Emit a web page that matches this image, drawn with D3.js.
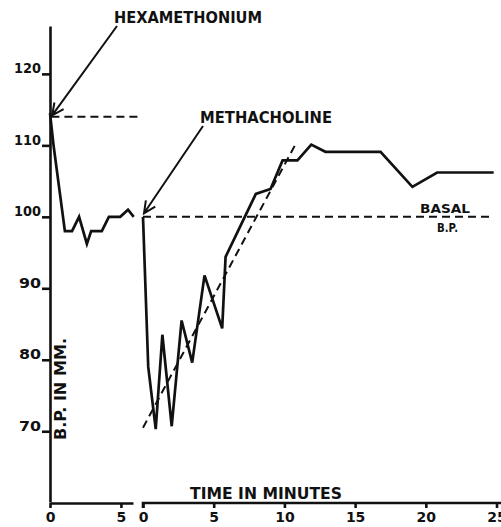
<!DOCTYPE html>
<html lang="en">
<head>
    <meta charset="UTF-8">
    <title>B.P. after hexamethonium and methacholine</title>
    <script src="https://d3js.org/d3.v7.min.js"></script>
    <style>
        body {
            margin: 0;
            background: #fff;
        }

        text {
            font-family: "DejaVu Sans", "Liberation Sans", sans-serif;
            font-weight: bold;
            fill: #111;
        }

        .trace {
            fill: none;
            stroke: #111;
            stroke-width: 2.7px;
            stroke-linejoin: miter;
        }

        .dashed {
            fill: none;
            stroke: #111;
            stroke-width: 2px;
            stroke-dasharray: 8, 5;
        }

        .axis path, .axis line {
            stroke: #111;
            stroke-width: 2.6px;
        }
    </style>
</head>
<body>
<svg width="501" height="527"></svg>

<script>
    // hexamethonium panel (minutes, mm Hg)
    const hexTime = [0, 0.25, 1.05, 1.55, 2.05, 2.6, 2.9, 3.65, 4.15, 4.95, 5.5, 5.9];
    const hexBP = [114.5, 110, 98, 98, 100, 96.2, 98, 98, 100, 100, 101, 100];

    // methacholine panel
    const methTime = [0, 0.37, 0.9, 1.37, 2.03, 2.73, 3.48, 4.35, 5.6, 5.84, 7.98, 9.02, 9.87, 10.92, 11.9, 12.9, 16.8, 19.05, 20.8, 24.8];
    const methBP = [100, 79, 70.3, 83.5, 70.7, 85.5, 79.6, 91.8, 84.4, 94.4, 103.2, 103.9, 107.9, 107.9, 110.1, 109.1, 109.1, 104.2, 106.2, 106.2];

    // dashed reference lines
    const hexLevelTime = [0.1, 6.2];
    const hexLevelBP = [114, 114];
    const basalTime = [0, 24.8];
    const basalBP = [100, 100];
    const fitTime = [0, 10.8];
    const fitBP = [70.5, 110.2];

    const yTicks = [70, 80, 90, 100, 110, 120];
    const hexTicks = [0, 5];
    const methTicks = [0, 5, 10, 15, 20, 25];

    const svg = d3.select("svg");

    const y = d3.scaleLinear().domain([60.1, 126.7]).range([502, 26]);
    const xHex = d3.scaleLinear().domain([0, 5.85]).range([50, 133]);
    const xMeth = d3.scaleLinear().domain([0, 25.6]).range([143, 505]);

    // y axis, labels sit on the tick line
    const yAxis = svg.append("g")
        .attr("class", "axis")
        .attr("transform", "translate(50,0)")
        .call(d3.axisLeft(y).tickValues(yTicks).tickSize(8).tickSizeOuter(0));
    yAxis.selectAll("text")
        .attr("x", -9)
        .attr("dy", "-1")
        .attr("textLength", d => d >= 100 ? 27 : 22)
        .attr("lengthAdjust", "spacingAndGlyphs")
        .style("font-size", "14px");

    function xAxis(scale, ticks) {
        const g = svg.append("g")
            .attr("class", "axis")
            .attr("transform", "translate(0,503)")
            .call(d3.axisBottom(scale).tickValues(ticks).tickSize(5).tickSizeOuter(0)
                .tickFormat(d3.format("d")));
        g.selectAll("text")
            .attr("y", 19)
            .attr("dy", 0)
            .style("font-size", "14px");
        return g;
    }
    xAxis(xHex, hexTicks);
    const methAxis = xAxis(xMeth, methTicks);
    // first tick of the second axis curls down like the original
    methAxis.select("path").attr("d", "M143,5V0H505");

    svg.selectAll(".axis .domain").attr("fill", "none");

    function lineFor(xs, ys, xScale) {
        return d3.line()
            .x((d, i) => xScale(xs[i]))
            .y((d, i) => y(ys[i]))(xs);
    }

    svg.append("path").attr("class", "dashed").attr("d", lineFor(hexLevelTime, hexLevelBP, xHex));
    svg.append("path").attr("class", "dashed").attr("d", lineFor(basalTime, basalBP, xMeth));
    svg.append("path").attr("class", "dashed").attr("d", lineFor(fitTime, fitBP, xMeth));

    svg.append("path").attr("class", "trace").attr("d", lineFor(hexTime, hexBP, xHex));
    svg.append("path").attr("class", "trace").attr("d", lineFor(methTime, methBP, xMeth));

    // annotation arrows with open heads
    function arrow(x0, y0, x1, y1) {
        const a = Math.atan2(y1 - y0, x1 - x0);
        const len = 13, spread = 0.45;
        const p = d3.path();
        p.moveTo(x0, y0);
        p.lineTo(x1, y1);
        p.moveTo(x1 - len * Math.cos(a - spread), y1 - len * Math.sin(a - spread));
        p.lineTo(x1, y1);
        p.lineTo(x1 - len * Math.cos(a + spread), y1 - len * Math.sin(a + spread));
        svg.append("path")
            .attr("d", p.toString())
            .attr("fill", "none")
            .attr("stroke", "#111")
            .attr("stroke-width", 2);
    }
    arrow(117, 26, xHex(0.15), y(114.2));
    arrow(203, 126, xMeth(0) + 1, y(100.5));

    function label(txt, x, yy, size, width) {
        svg.append("text")
            .attr("x", x)
            .attr("y", yy)
            .attr("textLength", width)
            .attr("lengthAdjust", "spacingAndGlyphs")
            .style("font-size", size + "px")
            .text(txt);
    }
    label("HEXAMETHONIUM", 114, 23, 16, 148);
    label("METHACHOLINE", 200, 123, 15.5, 132);
    label("BASAL", 420, 213, 12.5, 50);
    label("B.P.", 437, 232, 12.5, 21);
    label("TIME IN MINUTES", 190, 499, 15.5, 152);

    svg.append("text")
        .attr("transform", "translate(66,440) rotate(-90)")
        .attr("textLength", 102)
        .attr("lengthAdjust", "spacingAndGlyphs")
        .style("font-size", "15px")
        .text("B.P. IN MM.");
</script>
</body>
</html>
